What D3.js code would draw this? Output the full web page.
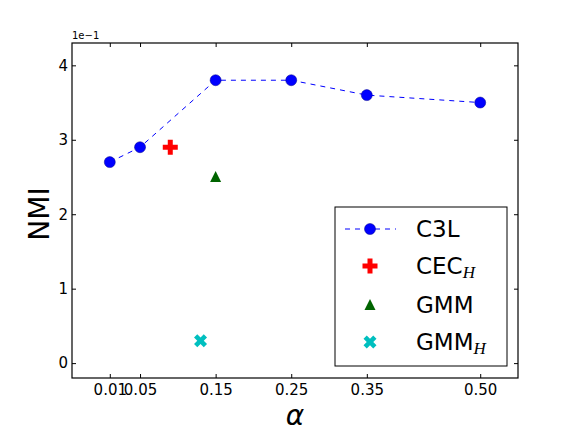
<!DOCTYPE html>
<html><head><meta charset="utf-8">
<script src="https://cdn.jsdelivr.net/npm/d3@7"></script>
<style>body{margin:0;background:#fff}svg{display:block}text{font-family:"DejaVu Sans",sans-serif}</style>
</head><body><svg id="c" width="576" height="432"></svg>
<script>
const alphaTicks = [0.01, 0.05, 0.15, 0.25, 0.35, 0.50];
const alphaTickLabels = ["0.01", "0.05", "0.15", "0.25", "0.35", "0.50"];
const yTicks = [0, 1, 2, 3, 4];
const c3lX = [0.01, 0.05, 0.15, 0.25, 0.35, 0.50];
const c3lY = [2.7, 2.9, 3.8, 3.8, 3.6, 3.5];
const cecH = [0.09, 2.9];
const gmm = [0.15, 2.5];
const gmmH = [0.13, 0.3];

const svg = d3.select("#c");
const L = 72, R = 518, T = 43, B = 378;
const x = d3.scaleLinear().domain([-0.04, 0.55]).range([L, R]);
const y = d3.scaleLinear().domain([-0.2, 4.3]).range([B, T]);

const fmtX = d => alphaTickLabels[alphaTicks.indexOf(d)];
const gb = svg.append("g").attr("transform",`translate(0,${B})`)
  .call(d3.axisBottom(x).tickValues(alphaTicks).tickFormat(fmtX).tickSizeInner(-4).tickSizeOuter(0).tickPadding(6));
const gt = svg.append("g").attr("transform",`translate(0,${T})`)
  .call(d3.axisTop(x).tickValues(alphaTicks).tickFormat("").tickSizeInner(-4).tickSizeOuter(0));
const gl = svg.append("g").attr("transform",`translate(${L},0)`)
  .call(d3.axisLeft(y).tickValues(yTicks).tickFormat(d3.format("d")).tickSizeInner(-4).tickSizeOuter(0).tickPadding(4));
const gr = svg.append("g").attr("transform",`translate(${R},0)`)
  .call(d3.axisRight(y).tickValues(yTicks).tickFormat("").tickSizeInner(-4).tickSizeOuter(0));
[gb,gt,gl,gr].forEach(g=>{g.select(".domain").remove();g.selectAll("line").attr("stroke","#000");g.selectAll("text").attr("font-size",15).attr("fill","#000").attr("font-family","DejaVu Sans");});
svg.append("rect").attr("x",L).attr("y",T).attr("width",R-L).attr("height",B-T).attr("fill","none").attr("stroke","#000").attr("stroke-width",1.2);

svg.append("text").attr("x",L).attr("y",T-4).attr("font-size",10).text("1e\u22121");

const pts = c3lX.map((d,i)=>[d,c3lY[i]]);
svg.append("path").datum(pts).attr("fill","none").attr("stroke","#0000ff").attr("stroke-width",1).attr("stroke-dasharray","5,5")
  .attr("d", d3.line().x(d=>x(d[0])).y(d=>y(d[1])));
svg.selectAll("circle.c3l").data(pts).join("circle").attr("cx",d=>x(d[0])).attr("cy",d=>y(d[1])).attr("r",5.5).attr("fill","#0000ff").attr("stroke","#00008b").attr("stroke-width",0.5);

function plusPath(s){const a=s/2,w=s/6;return `M${-w},${-a}H${w}V${-w}H${a}V${w}H${w}V${a}H${-w}V${w}H${-a}V${-w}H${-w}Z`;}
function xPath(s){const a=s/2,w=s/4;const p=[[-a+w,-a],[0,-w],[a-w,-a],[a,-a+w],[w,0],[a,a-w],[a-w,a],[0,w],[-a+w,a],[-a,a-w],[-w,0],[-a,-a+w]];return "M"+p.map(q=>q.join(",")).join("L")+"Z";}
function triPath(s){const h=s*0.9;return `M0,${-h/2-1}L${s/2},${h/2}L${-s/2},${h/2}Z`;}

function drawMarker(g, kind, cx, cy){
  if(kind==="plus") g.append("path").attr("d",plusPath(15)).attr("fill","#ff0000").attr("transform",`translate(${cx},${cy})`);
  if(kind==="tri") g.append("path").attr("d",triPath(11)).attr("fill","#006400").attr("transform",`translate(${cx},${cy})`);
  if(kind==="x") g.append("path").attr("d",xPath(13)).attr("fill","#00bfbf").attr("transform",`translate(${cx},${cy})`);
}
drawMarker(svg,"plus",x(cecH[0]),y(cecH[1]));
drawMarker(svg,"tri",x(gmm[0]),y(gmm[1]));
drawMarker(svg,"x",x(gmmH[0]),y(gmmH[1]));

svg.append("text").attr("transform","translate(49,214) rotate(-90)").attr("text-anchor","middle").attr("font-size",28).text("NMI");
svg.append("text").attr("x",295).attr("y",425).attr("text-anchor","middle").attr("font-size",28).attr("font-style","italic").attr("font-family","Liberation Serif").text("\u03b1");

const lg = svg.append("g");
lg.append("rect").attr("x",335).attr("y",207).attr("width",172).attr("height",159).attr("fill","#fff").attr("stroke","#000").attr("stroke-width",1);
const ly = [229, 266, 305, 342];
lg.append("line").attr("x1",345).attr("x2",396).attr("y1",ly[0]).attr("y2",ly[0]).attr("stroke","#0000ff").attr("stroke-dasharray","5,5");
lg.append("circle").attr("cx",370).attr("cy",ly[0]).attr("r",5.5).attr("fill","#0000ff").attr("stroke","#00008b").attr("stroke-width",0.5);
drawMarker(lg,"plus",370,ly[1]);
drawMarker(lg,"tri",370,ly[2]);
drawMarker(lg,"x",370,ly[3]);
const names = [["C3L",""],["CEC","H"],["GMM",""],["GMM","H"]];
names.forEach((n,i)=>{
  const t = lg.append("text").attr("x",416).attr("y",ly[i]+8).attr("font-size",23);
  t.append("tspan").text(n[0]);
  if(n[1]) t.append("tspan").attr("dy",4).attr("font-family","Liberation Serif").attr("font-style","italic").attr("font-size",17).text(n[1]);
});
</script></body></html>
